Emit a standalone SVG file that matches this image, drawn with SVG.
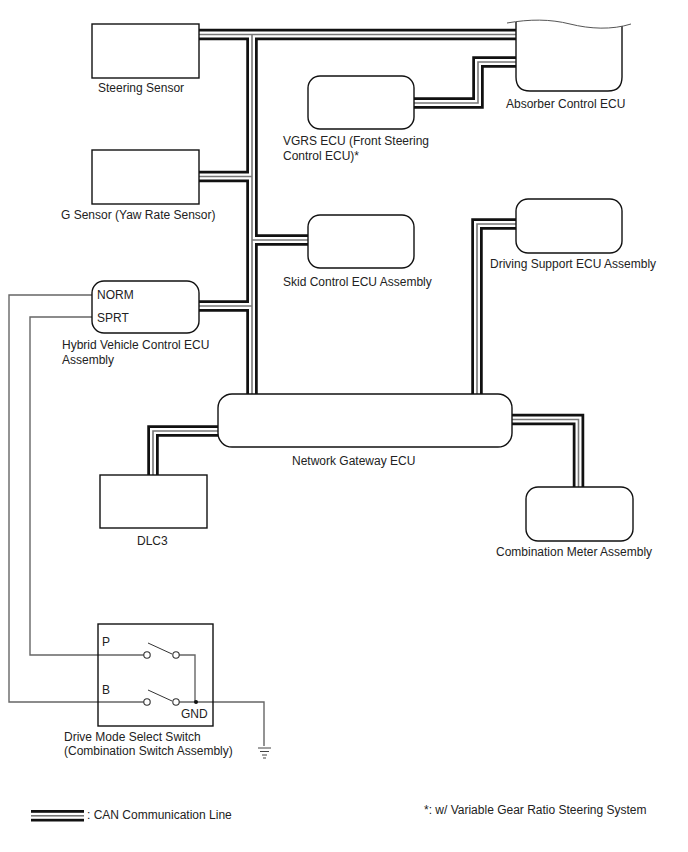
<svg xmlns="http://www.w3.org/2000/svg" width="688" height="852" viewBox="0 0 688 852">
<style>
.box{fill:#fff;stroke:#111;stroke-width:1.4}
.t{font-family:"Liberation Sans",Arial,sans-serif;font-size:12px;fill:#222}
.outer{fill:none;stroke:#111;stroke-width:11.500}
.inner{fill:none;stroke:#fff;stroke-width:6}
.core{fill:none;stroke:#777;stroke-width:1.6}
.wire{fill:none;stroke:#666;stroke-width:1.4}
.term{fill:#fff;stroke:#333;stroke-width:1.1}
</style>
<defs>
<!-- CAN bus runs shared by the three stroke layers -->
<g id="bus">
<path d="M199 34.500H516"/>
<path d="M252 34.500V395"/>
<path d="M199 176.500H252"/>
<path d="M252 240H309"/>
<path d="M199 306H252"/>
<path d="M414 103H478V62H516"/>
<path d="M516 224H477V395"/>
<path d="M512 419.500H578.500V488"/>
<path d="M218 431H153V476"/>
</g>
</defs>
<g id="connectors">
<use href="#bus" class="outer"/>
<use href="#bus" class="inner"/>
<use href="#bus" class="core"/>
<path class="wire" d="M92 295H9V702H146"/>
<path class="wire" d="M92 317H30V655H146"/>
<path class="wire" d="M176 655H195V702"/>
<path class="wire" d="M176 702H264V746"/>
</g>
<g id="steering-sensor"><rect class="box" x="92" y="24" width="107" height="54"/><text class="t" x="98" y="92">Steering Sensor</text></g>
<g id="g-sensor"><rect class="box" x="92" y="150" width="107" height="54"/><text class="t" x="61" y="219">G Sensor (Yaw Rate Sensor)</text></g>
<g id="hybrid-ecu"><rect class="box" x="92" y="281" width="107" height="52" rx="12"/><text class="t" x="97" y="299">NORM</text><text class="t" x="97" y="322">SPRT</text><text class="t" x="62" y="349">Hybrid Vehicle Control ECU</text><text class="t" x="62" y="364">Assembly</text></g>
<g id="vgrs-ecu"><rect class="box" x="308" y="76" width="106" height="53" rx="12"/><text class="t" x="283" y="145">VGRS ECU (Front Steering</text><text class="t" x="283" y="160">Control ECU)*</text></g>
<g id="skid-ecu"><rect class="box" x="308" y="215" width="106" height="53" rx="12"/><text class="t" x="283" y="286">Skid Control ECU Assembly</text></g>
<g id="absorber-ecu"><path class="box" d="M516 22V77Q516 91 530 91H608Q622 91 622 77V26"/><path fill="none" stroke="#555" stroke-width="1" d="M507 23C530 19 550 19 570 24C590 29 612 30 631 24"/><text class="t" x="506" y="108">Absorber Control ECU</text></g>
<g id="driving-ecu"><rect class="box" x="516" y="199" width="106" height="54" rx="12"/><text class="t" x="490" y="268">Driving Support ECU Assembly</text></g>
<g id="gateway-ecu"><rect class="box" x="218" y="394" width="294" height="53" rx="14"/><text class="t" x="292" y="465">Network Gateway ECU</text></g>
<g id="dlc3"><rect class="box" x="100" y="475" width="107" height="53"/><text class="t" x="137" y="545">DLC3</text></g>
<g id="combination-meter"><rect class="box" x="526" y="487" width="107" height="54" rx="12"/><text class="t" x="496" y="556">Combination Meter Assembly</text></g>
<g id="drive-mode-switch">
<rect x="98" y="624" width="115" height="102" fill="none" stroke="#111" stroke-width="1.4"/>
<path d="M148 643L172 654M148 690L172 701" fill="none" stroke="#333" stroke-width="1"/>
<circle class="term" cx="147" cy="655" r="3.2"/><circle class="term" cx="176" cy="655" r="3.2"/>
<circle class="term" cx="147" cy="702" r="3.2"/><circle class="term" cx="176" cy="702" r="3.2"/>
<circle cx="196" cy="702" r="2" fill="#111"/>
<text class="t" x="102" y="646">P</text><text class="t" x="102" y="694">B</text><text class="t" x="181" y="718">GND</text>
<text class="t" x="64" y="741">Drive Mode Select Switch</text><text class="t" x="64" y="755">(Combination Switch Assembly)</text>
</g>
<g id="ground"><path d="M258 748H271M260 751.500H269M262 755H267M263 758H266" fill="none" stroke="#444" stroke-width="1"/></g>
<g id="legend">
<rect x="31" y="810" width="53" height="11.500" fill="#111"/><rect x="31" y="812.800" width="53" height="6" fill="#fff"/><rect x="31" y="815" width="53" height="1.600" fill="#777"/>
<text class="t" x="87" y="819">: CAN Communication Line</text>
<text class="t" x="424" y="814">*: w/ Variable Gear Ratio Steering System</text>
</g>
</svg>
